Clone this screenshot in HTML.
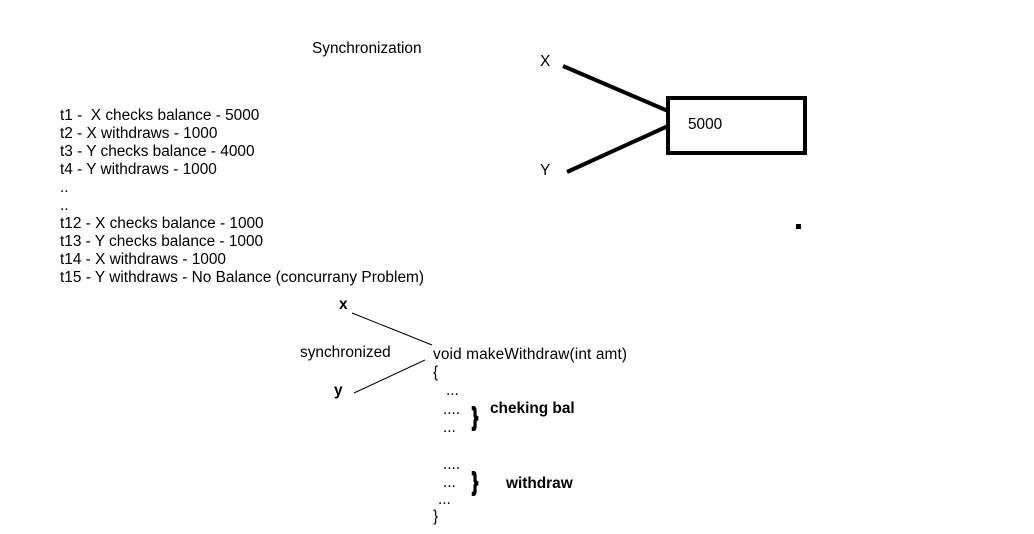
<!DOCTYPE html>
<html><head><style>
html,body{margin:0;padding:0;background:#fff;}
svg{display:block;}
text{font-family:"Liberation Sans",Arial,sans-serif;font-size:15.4px;fill:#000;}
.b{font-weight:bold;}
</style></head><body>
<svg width="1034" height="534" viewBox="0 0 1034 534">
<text x="312" y="53" font-size="14.2">Synchronization</text>
<text x="540" y="66">X</text>
<text x="540" y="175">Y</text>
<line x1="563" y1="66" x2="668" y2="111" stroke="#000" stroke-width="4"/>
<line x1="567" y1="172" x2="668" y2="126" stroke="#000" stroke-width="4"/>
<rect x="668" y="98" width="137" height="55" fill="none" stroke="#000" stroke-width="4"/>
<text x="688" y="129" font-size="14">5000</text>
<rect x="796" y="224" width="5" height="5" fill="#000"/>

<text x="60" y="120" xml:space="preserve">t1 -  X checks balance - 5000</text>
<text x="60" y="138">t2 - X withdraws - 1000</text>
<text x="60" y="156">t3 - Y checks balance - 4000</text>
<text x="60" y="174">t4 - Y withdraws - 1000</text>
<text x="60" y="192">..</text>
<text x="60" y="210">..</text>
<text x="60" y="228">t12 - X checks balance - 1000</text>
<text x="60" y="246">t13 - Y checks balance - 1000</text>
<text x="60" y="264">t14 - X withdraws - 1000</text>
<text x="60" y="282" textLength="364">t15 - Y withdraws - No Balance (concurrany Problem)</text>

<text x="339" y="309" class="b" font-size="14">x</text>
<text x="334" y="395" class="b" font-size="14">y</text>
<text x="300" y="357" font-size="14.2">synchronized</text>
<line x1="352" y1="313" x2="432" y2="345" stroke="#000" stroke-width="1"/>
<line x1="354" y1="393" x2="425" y2="360" stroke="#000" stroke-width="1"/>
<text x="433" y="359" font-size="14.2" textLength="194">void makeWithdraw(int amt)</text>
<text x="433" y="377" font-size="14">{</text>
<text x="446" y="395" font-size="12">...</text>
<text x="443" y="414" font-size="12">....</text>
<text x="443" y="432" font-size="12">...</text>
<text x="443" y="469" font-size="12">....</text>
<text x="443" y="487" font-size="12">...</text>
<text x="438" y="504" font-size="12">...</text>
<text x="433" y="521" font-size="14">}</text>
<text transform="translate(472,425) scale(1,1.6)" class="b" font-size="20" stroke="#000" stroke-width="1.2">}</text>
<text transform="translate(472,490) scale(1,1.6)" class="b" font-size="20" stroke="#000" stroke-width="1.2">}</text>
<text x="490" y="413" class="b" font-size="14.5">cheking bal</text>
<text x="506" y="488" class="b" font-size="14.5">withdraw</text>
</svg>
</body></html>
